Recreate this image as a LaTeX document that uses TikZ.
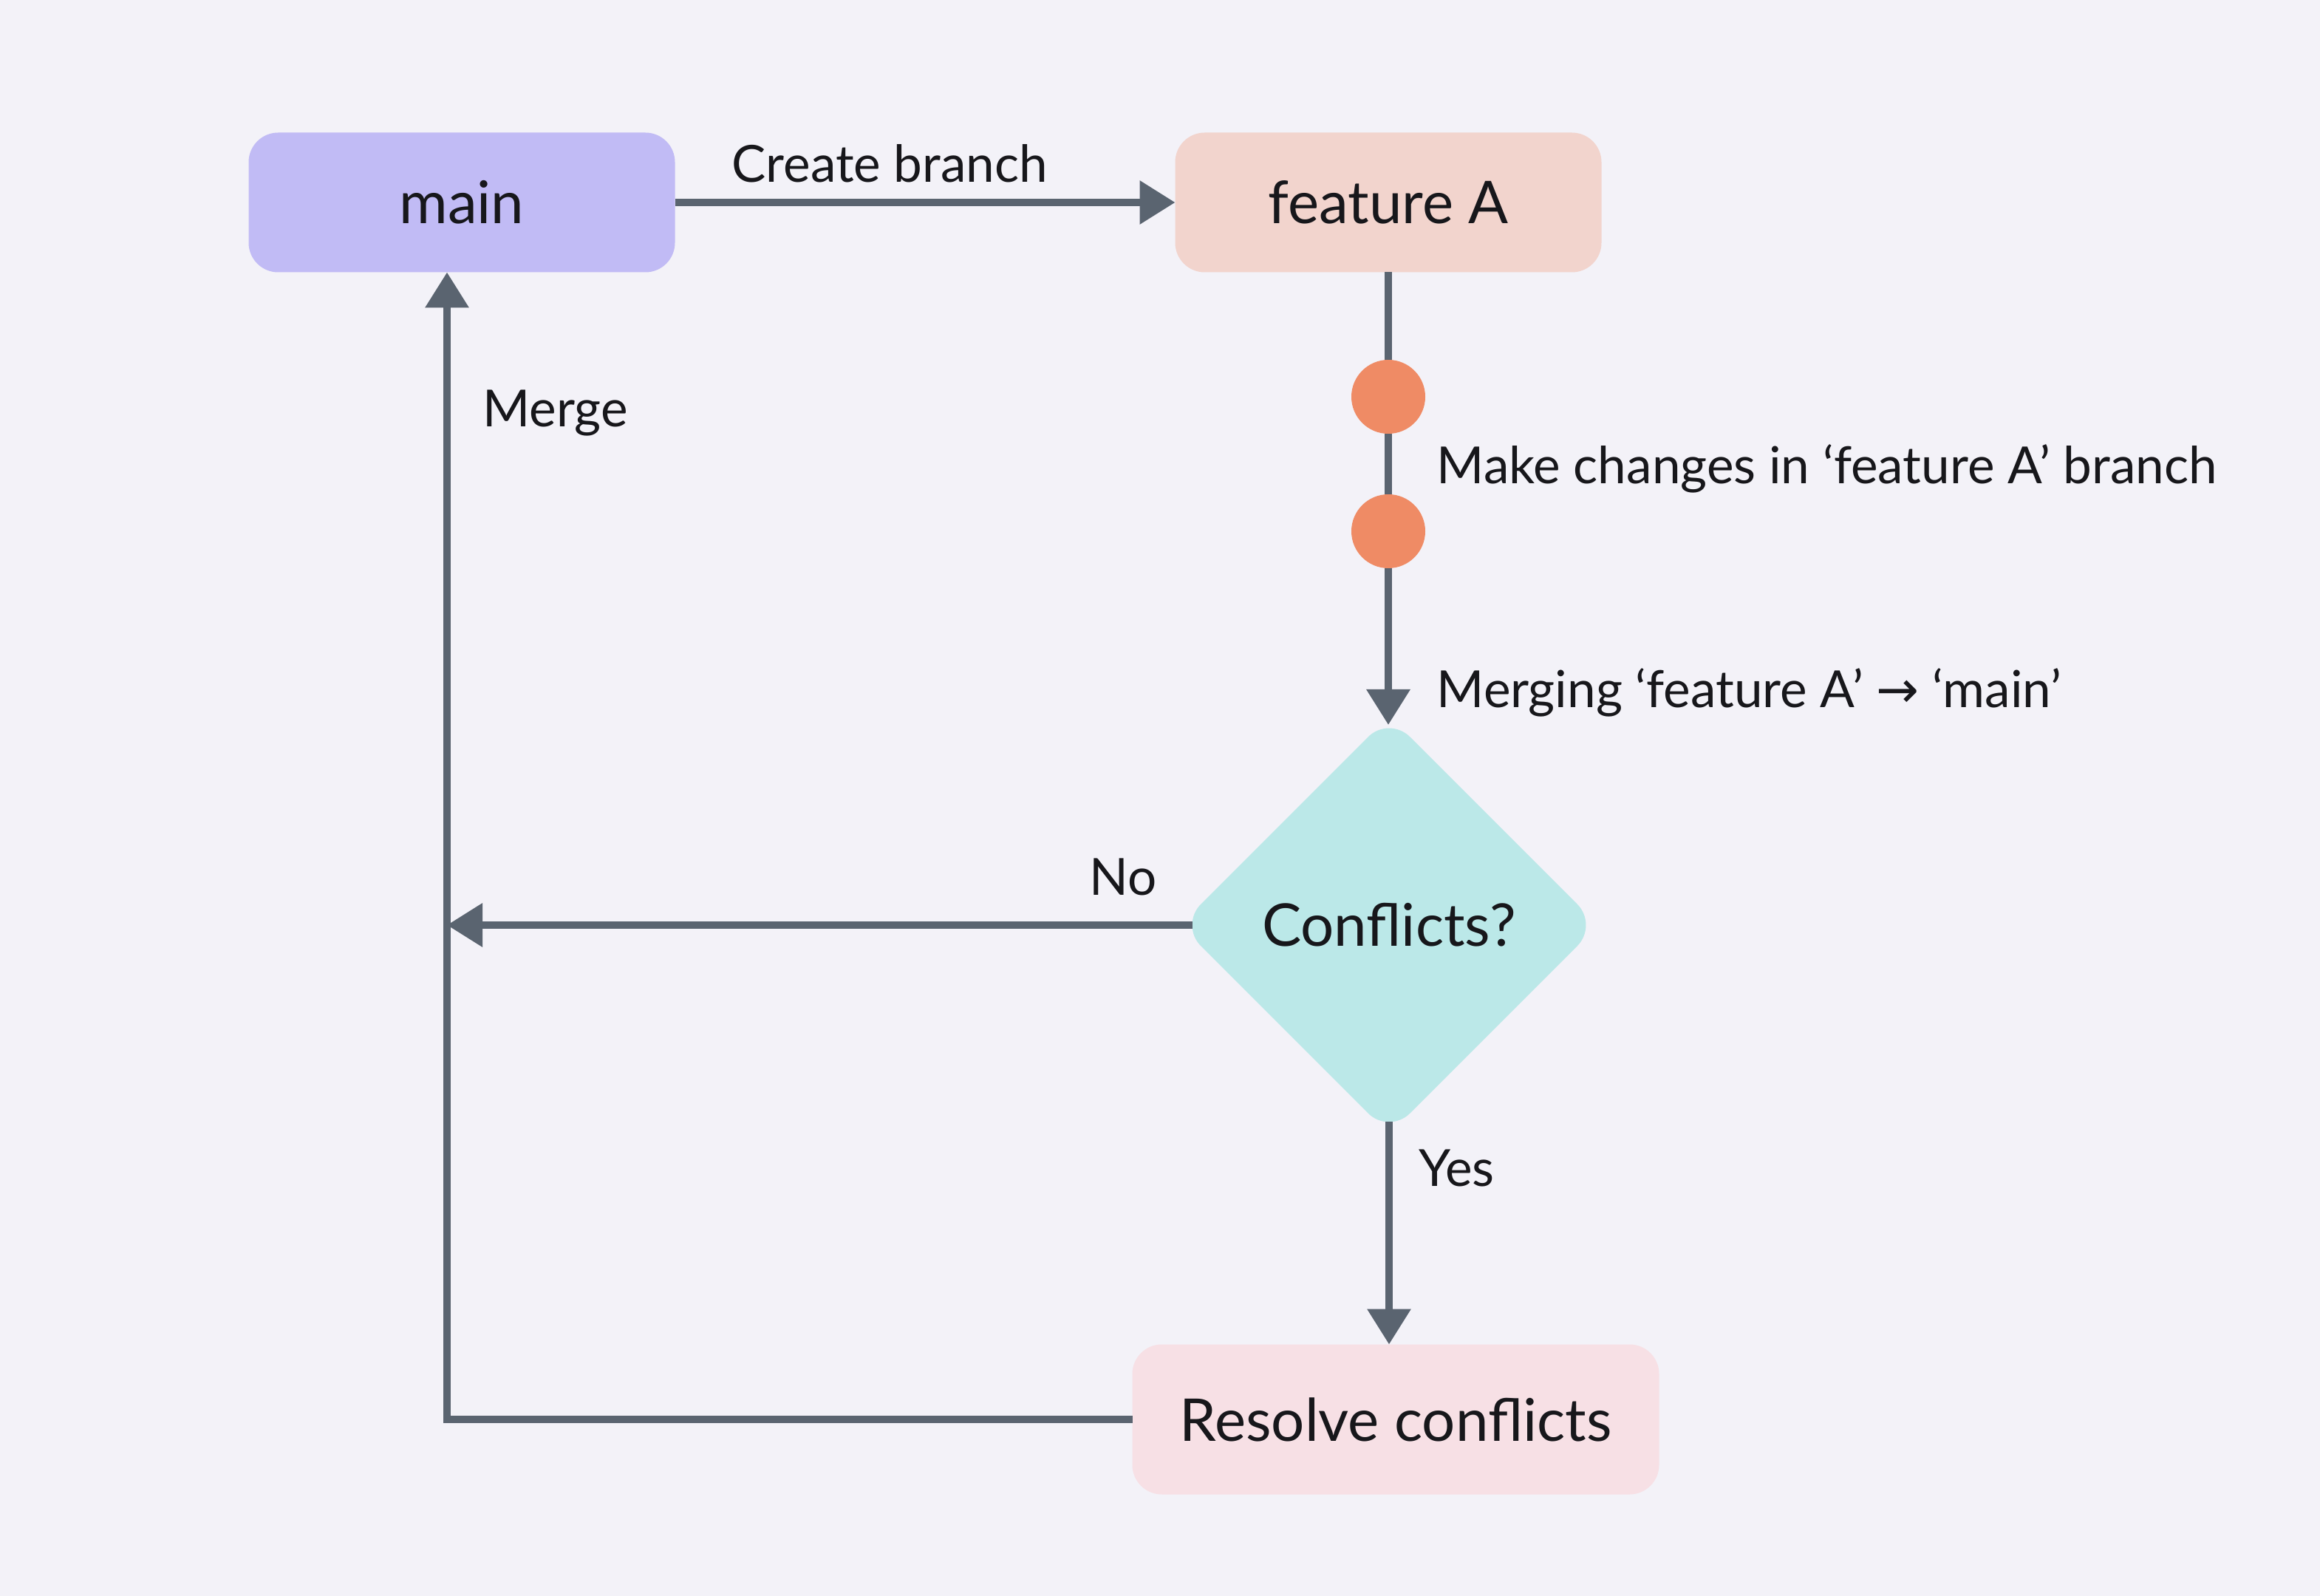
\documentclass[tikz,border=0pt]{standalone}
\usepackage{xcolor}
\usepackage{fontspec}
\setmainfont{Lato}
\newfontfamily\arrowfont{DejaVu Sans}
\usepackage{tikz}
\usetikzlibrary{shapes.geometric, arrows.meta}

\definecolor{bgcol}{HTML}{F3F2F8}
\definecolor{maincol}{HTML}{C1BBF5}
\definecolor{featcol}{HTML}{F2D4CD}
\definecolor{commitcol}{HTML}{EF8B65}
\definecolor{confcol}{HTML}{BBE8E8}
\definecolor{resolvecol}{HTML}{F7E0E5}
\definecolor{linecol}{HTML}{5A6470}
\definecolor{textcol}{HTML}{17171B}

\tikzset{
    box/.style={rounded corners=0.4cm, outer sep=0pt, text=textcol, font=\fontsize{22.7}{27}\selectfont},
    flowline/.style={draw=linecol, line width=0.1cm},
    flowarrow/.style={flowline, -{Triangle[length=0.48cm, width=0.57cm]}},
    commit/.style={circle, fill=commitcol, minimum size=1cm, inner sep=0pt},
    edgetext/.style={anchor=base west, inner sep=0pt, text=textcol, font=\fontsize{19.7}{23}\selectfont},
}

\begin{document}
\begin{tikzpicture}
    \fill[bgcol] (0, 0) rectangle (31.4, -21.6);

    \node[box, fill=maincol, minimum width=5.77cm, minimum height=1.89cm] at (6.25, -2.74) (main) {main};
    \node[box, fill=featcol, minimum width=5.77cm, minimum height=1.89cm] at (18.79, -2.74) (featA) {feature A};
    \node[box, diamond, aspect=1, fill=confcol, minimum width=5.66cm, minimum height=5.66cm] at (18.80, -12.52) (conf) {Conflicts?};
    \node[box, fill=resolvecol, minimum width=7.13cm, minimum height=2.03cm] at (18.89, -19.21) (resolve) {Resolve conflicts};
    \coordinate (corner) at (6.05, -19.16);

    \draw[flowarrow] (main.east) -- (featA.west);
    \draw[flowarrow] (featA.south) -- ([yshift=-0.12cm]featA.south |- conf.north);
    \draw[flowarrow] ([yshift=0.17cm]conf.south) -- (conf.south |- resolve.north);
    \draw[flowarrow] ([xshift=0.17cm]conf.west) -- (conf.west -| corner);
    \draw[flowarrow] (resolve.west) -- (resolve.west -| corner) -- (corner |- main.south);

    \node[commit] at (18.79, -5.37) (c1) {};
    \node[commit] at (18.79, -7.19) (c2) {};

    \node[edgetext] at (9.90, -2.47) (create) {Create branch};
    \node[edgetext] at (6.53, -5.78) (merge) {Merge};
    \node[edgetext] at (19.44, -6.55) (changes) {Make changes in ‘feature A’ branch};
    \node[edgetext] at (19.44, -9.58) (merging) {Merging ‘feature A’ {\arrowfont →} ‘main’};
    \node[edgetext] at (14.74, -12.11) (no) {No};
    \node[edgetext] at (19.20, -16.05) (yes) {Yes};
\end{tikzpicture}
\end{document}
